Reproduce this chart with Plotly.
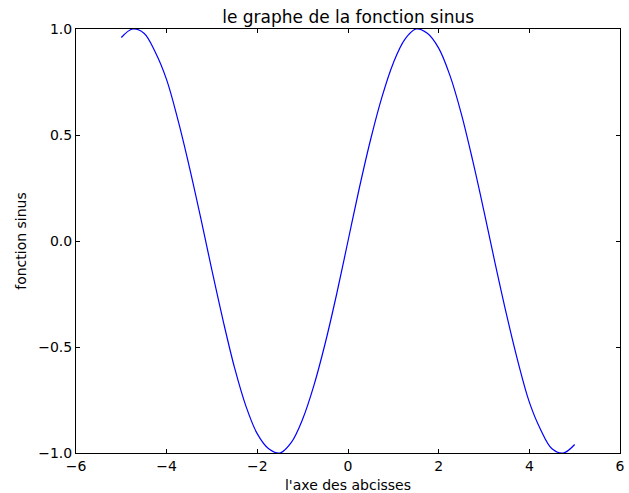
import plotly.graph_objects as go

# values
x_vals = [-5.00, -4.75, -4.50, -4.25, -4.00, -3.75, -3.50, -3.25, -3.00, -2.75,
          -2.50, -2.25, -2.00, -1.75, -1.50, -1.25, -1.00, -0.75, -0.50, -0.25,
          0.00, 0.25, 0.50, 0.75, 1.00, 1.25, 1.50, 1.75, 2.00, 2.25,
          2.50, 2.75, 3.00, 3.25, 3.50, 3.75, 4.00, 4.25, 4.50, 4.75, 5.00]
y_vals = [0.96, 1.00, 0.98, 0.89, 0.76, 0.57, 0.35, 0.11, -0.14, -0.38,
          -0.60, -0.78, -0.91, -0.98, -1.00, -0.95, -0.84, -0.68, -0.48, -0.25,
          0.00, 0.25, 0.48, 0.68, 0.84, 0.95, 1.00, 0.98, 0.91, 0.78,
          0.60, 0.38, 0.14, -0.11, -0.35, -0.57, -0.76, -0.89, -0.98, -1.00, -0.96]

x_ticks = [-6, -4, -2, 0, 2, 4, 6]
x_ticktext = ["\u22126", "\u22124", "\u22122", "0", "2", "4", "6"]
y_ticks = [-1.0, -0.5, 0.0, 0.5, 1.0]
y_ticktext = ["\u22121.0", "\u22120.5", "0.0", "0.5", "1.0"]

title_text = "le graphe de la fonction sinus"
x_label = "l'axe des abcisses"
y_label = "fonction sinus"

font_family = "DejaVu Sans"

fig = go.Figure()
fig.add_trace(go.Scatter(
    x=x_vals, y=y_vals, mode="lines",
    line=dict(color="#0000ff", width=1.2, shape="spline", smoothing=1.0),
    showlegend=False, hoverinfo="skip",
))

axis_common = dict(
    showgrid=False, zeroline=False, automargin=False,
    showline=True, linecolor="black", linewidth=1, mirror="ticks",
    ticks="inside", ticklen=4, tickwidth=1, tickcolor="black",
    tickfont=dict(family=font_family, size=14, color="black"),
)

fig.update_layout(
    width=629, height=493,
    margin=dict(l=76, r=9, t=29, b=40),
    paper_bgcolor="white", plot_bgcolor="white",
    font=dict(family=font_family, color="black"),
    title=dict(text=title_text, x=0.5535, xanchor="center",
               y=0.965, yanchor="middle", automargin=False,
               font=dict(family=font_family, size=17, color="black")),
    xaxis=dict(range=[-6, 6], tickvals=x_ticks, ticktext=x_ticktext,
               title=dict(text=x_label, standoff=9,
                          font=dict(family=font_family, size=14, color="black")),
               **axis_common),
    yaxis=dict(range=[-1, 1], tickvals=y_ticks, ticktext=y_ticktext,
               title=dict(text=y_label, standoff=8,
                          font=dict(family=font_family, size=14, color="black")),
               **axis_common),
)

fig.write_html("out.html",
               config={"displayModeBar": False},
               post_script="document.body.style.margin='0';document.body.style.overflow='hidden';")
